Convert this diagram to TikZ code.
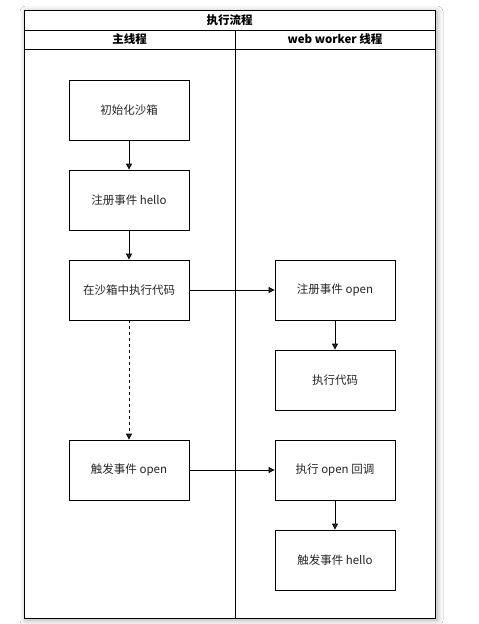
\documentclass[tikz,border=0pt]{standalone}
\usepackage{fontspec}
\setmainfont{Noto Sans CJK SC}
\usetikzlibrary{arrows.meta,shadows.blur}
\tikzset{
  x=1pt,y=-1pt,
  stepbox/.style={draw, line width=0.8pt, minimum width=120pt, minimum height=60pt, inner sep=0pt, font=\fontsize{11.5}{13}\selectfont, text=black!85},
  flow/.style={-{Triangle[width=6pt,length=6pt]}, line width=0.8pt},
  frame/.style={line width=0.9pt},
  hdr/.style={font=\bfseries\fontsize{11.5}{13}\selectfont, inner sep=0pt},
}
\begin{document}
\begin{tikzpicture}
\useasboundingbox (0,0) rectangle (479,624);
\fill[white] (0,0) rectangle (479,624);
\draw[frame, fill=white, blur shadow={shadow xshift=2pt, shadow yshift=-2pt, shadow blur radius=6pt, shadow opacity=35}] (24,10) rectangle (435,618);
\draw[frame] (24,30) -- (435,30);
\draw[frame] (24,49) -- (435,49);
\draw[frame] (235,30) -- (235,618);
\node[hdr] (title) at (229.5,20) {执行流程};
\node[hdr] (mainh) at (129.5,39.5) {主线程};
\node[hdr] (workh) at (335,39.5) {web worker 线程};

\node[stepbox] (a) at (129,110) {初始化沙箱};
\node[stepbox] (b) at (129,200) {注册事件 hello};
\node[stepbox] (c) at (129,290) {在沙箱中执行代码};
\node[stepbox] (d) at (129,470) {触发事件 open};
\node[stepbox] (e) at (335,290) {注册事件 open};
\node[stepbox] (f) at (335,380) {执行代码};
\node[stepbox] (g) at (335,470) {执行 open 回调};
\node[stepbox] (h) at (335,560) {触发事件 hello};

\draw[flow] (a) -- (b);
\draw[flow] (b) -- (c);
\draw[flow, dashed] (c) -- (d);
\draw[flow] (c) -- (e);
\draw[flow] (e) -- (f);
\draw[flow] (d) -- (g);
\draw[flow] (g) -- (h);
\end{tikzpicture}
\end{document}
